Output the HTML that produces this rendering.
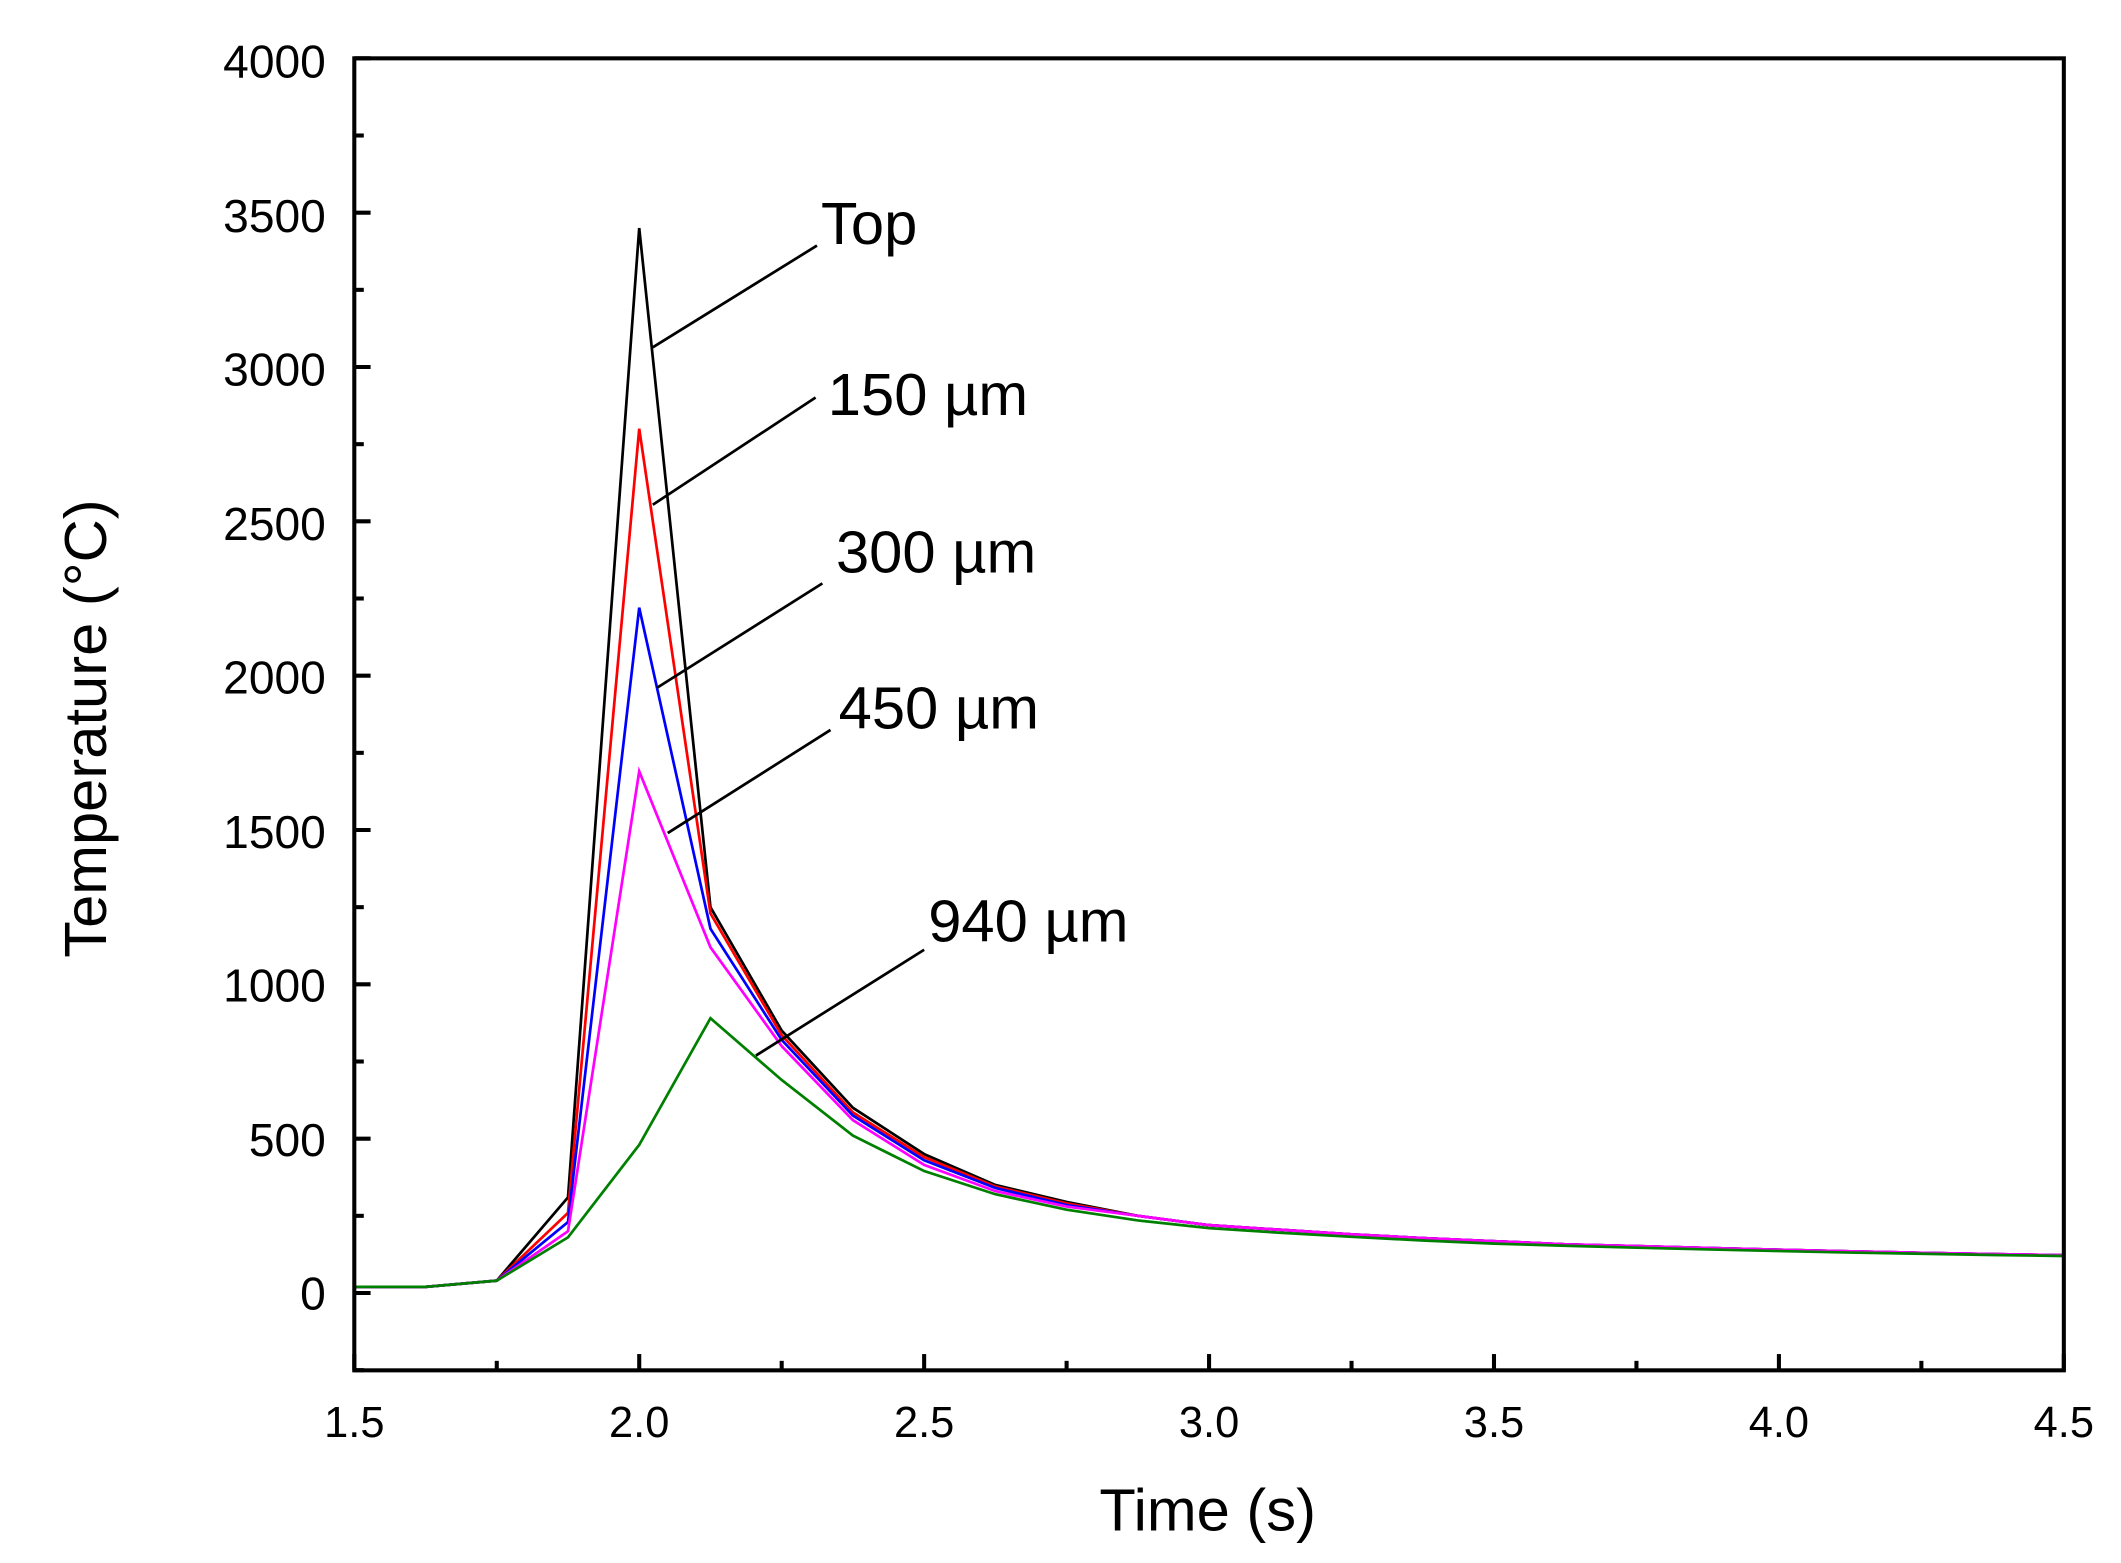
<!DOCTYPE html>
<html><head><meta charset="utf-8"><style>html,body{margin:0;padding:0;background:#fff}svg{display:block}</style></head>
<body>
<svg id="s" width="2121" height="1563" viewBox="0 0 1563 1152" xmlns="http://www.w3.org/2000/svg" font-family="Liberation Sans, Arial, sans-serif">
<rect width="1563" height="1152" fill="#fff"/>
<defs><clipPath id="c"><rect x="261" y="43" width="1260" height="967"/></clipPath></defs>
<g id="g"></g>
<rect x="261" y="43" width="1260" height="967" fill="none" stroke="#000" stroke-width="3"/>
<g font-size="34" text-anchor="end" fill="#000">
<text x="240" y="965">0</text><text x="240" y="852">500</text><text x="240" y="738">1000</text><text x="240" y="625">1500</text><text x="240" y="511">2000</text><text x="240" y="398">2500</text><text x="240" y="284">3000</text><text x="240" y="171">3500</text><text x="240" y="57">4000</text>
</g>
<g font-size="32" text-anchor="middle">
<text x="261" y="1059">1.5</text><text x="471" y="1059">2.0</text><text x="681" y="1059">2.5</text><text x="891" y="1059">3.0</text><text x="1101" y="1059">3.5</text><text x="1311" y="1059">4.0</text><text x="1521" y="1059">4.5</text>
</g>
<text x="890" y="1128" font-size="44" text-anchor="middle">Time (s)</text>
<text transform="translate(78,537) rotate(-90)" font-size="44" text-anchor="middle">Temperature (°C)</text>
<g font-size="44">
<text x="605" y="180">Top</text><text x="610" y="306">150 µm</text><text x="616" y="422">300 µm</text><text x="618" y="537">450 µm</text><text x="684" y="694">940 µm</text>
</g>
<g stroke="#000" stroke-width="2">
<line x1="602" y1="181" x2="481" y2="256"/><line x1="601" y1="293" x2="481" y2="372"/><line x1="606" y1="430" x2="484" y2="507"/><line x1="612" y1="538" x2="492" y2="614"/><line x1="681" y1="700" x2="557" y2="778"/>
</g>
</svg>
<script>
var g=document.getElementById('g'),h='';
function X(t){return 261+420*(t-1.5)}function Y(v){return 953-0.2275*v}
for(var v=-250;v<=4000;v+=250){var y=Y(v),l=(v%500==0)?12:7;h+='<line x1="261" y1="'+y+'" x2="'+(261+l)+'" y2="'+y+'" stroke="#000" stroke-width="3"/>';}
for(var t=1.5;t<=4.5;t+=0.25){var x=X(t),l=(Math.abs(t*2-Math.round(t*2))<1e-6)?12:7;h+='<line x1="'+x+'" y1="1010" x2="'+x+'" y2="'+(1010-l)+'" stroke="#000" stroke-width="3"/>';}
var tail=[250,220,205,190,178,168,158,152,146,140,135,130,126,122,120,118];
function mk(a){return a.concat(tail)}
var S=[
['#008000',[20,20,40,180,480,890,690,510,395,320,270].concat([235,210,195,182,170,160,153,147,141,136,131,127,123,120,118,116])],
['#ff00ff',mk([20,20,40,200,1690,1120,800,560,415,330,280])],
['#0000ff',mk([20,20,40,230,2220,1180,820,575,430,340,285])],
['#ff0000',mk([20,20,40,260,2800,1230,835,585,440,345,290])],
['#000000',mk([20,20,40,310,3450,1250,850,600,450,350,295])]];
var ord=[4,3,2,1,0];
ord.forEach(function(k){var s=S[k];var p='';s[1].slice(0,25).forEach(function(v,i){p+=(i?'L':'M')+X(1.5+0.125*i).toFixed(1)+','+Y(v).toFixed(1)});h+='<path d="'+p+'" fill="none" stroke="'+s[0]+'" stroke-width="2" clip-path="url(#c)"/>';});
g.innerHTML=h;
</script>
</body></html>
